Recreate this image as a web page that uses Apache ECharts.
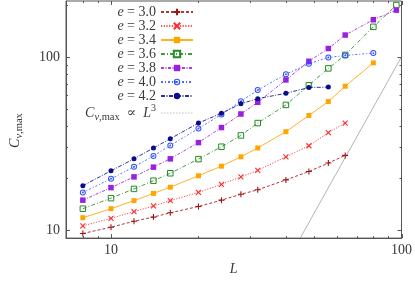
<!DOCTYPE html>
<html>
<head>
<meta charset="utf-8">
<script src="https://cdn.jsdelivr.net/npm/echarts@6/dist/echarts.min.js"></script>
<style>html,body{margin:0;padding:0;background:#fff;}#c{width:415px;height:281px;}</style>
</head>
<body>
<div id="c"></div>
<script>
// ---- data ----
const L = [8, 10, 12, 14, 16, 20, 24, 28, 32, 40, 48, 56, 64, 80, 96];
const e30 = [9.57, 10.4, 11.26, 11.9, 12.6, 13.7, 14.9, 16.1, 17.1, 19.5, 21.8, 24.4, 27.0];
const e32 = [10.6, 11.7, 12.8, 13.8, 14.8, 16.5, 18.4, 20.3, 22.1, 26.5, 30.7, 36.5, 41.5];
const e34 = [11.8, 13.3, 14.8, 16.3, 17.7, 20.6, 23.4, 26.5, 29.8, 37.0, 45.9, 55.2, 67.7, 92.3];
const e36 = [13.3, 15.3, 17.3, 19.3, 21.3, 25.7, 30.3, 35.2, 41.5, 52.8, 68.6, 85.8, 102.6, 149, 199];
const e38 = [14.9, 17.6, 20.3, 23.1, 25.8, 32.0, 39.1, 46.8, 54.7, 73.6, 94.3, 111.7, 133.6, 163.7, 186];
const e40 = [16.5, 19.8, 23.2, 26.8, 30.8, 38.6, 46.5, 55.4, 64.3, 79.4, 91.2, 99.2, 101.8, 105.2];
const e42 = [18.05, 22.0, 25.8, 29.8, 33.7, 41.5, 47.3, 53.6, 57.4, 61.6, 66.5, 66.9];
const refL = [44.8, 100];
const refC = [9, 100];
const seriesNames = ['e = 3.0', 'e = 3.2', 'e = 3.4', 'e = 3.6', 'e = 3.8', 'e = 4.0', 'e = 4.2'];
const refName = 'Cv,max ∝ L^3';
const xMajorTicks = [10, 100];
const xMinorTicks = [8, 9, 20, 30, 40, 50, 60, 70, 80, 90];
const yMajorTicks = [10, 100];
const yMinorTicks = [20, 30, 40, 50, 60, 70, 80, 90, 200];
const xTickLabels = ['10', '100'];
const yTickLabels = ['10', '100'];

// ---- styles ----
const SERIF = "'Liberation Serif','DejaVu Serif',serif";
const AX = '#555';
const TXT = '#3a3a3a';
const styles = [
  {color: '#a01414', dash: [3, 2], symbol: 'path://M0,5H10M5,0V10', size: 6, stroke: true},
  {color: '#ff2a2a', dash: [1.2, 1.5], symbol: 'path://M0,0L10,10M10,0L0,10', size: 5, stroke: true},
  {color: '#ffa500', dash: 'solid', symbol: 'rect', size: 5},
  {color: '#238b23', dash: [4, 2, 1, 2], symbol: 'rect', size: 5.5, hollow: true},
  {color: '#9b1fe0', dash: [3, 1.5, 1, 1.5], symbol: 'rect', size: 5.5},
  {color: '#2f50ff', dash: [2, 2, 1, 2], symbol: 'path://M0,-3A3,3 0 1,1 0,3A3,3 0 1,1 0,-3ZM0,-2A2,2 0 1,0 0,2A2,2 0 1,0 0,-2ZM0,-0.9A0.9,0.9 0 1,1 0,0.9A0.9,0.9 0 1,1 0,-0.9Z', size: 6},
  {color: '#0c0c8c', dash: [4, 1.5, 1, 1.5], symbol: 'circle', size: 5}
];
const allData = [e30, e32, e34, e36, e38, e40, e42];

const series = allData.map((vals, i) => {
  const s = styles[i];
  let itemStyle;
  if (s.stroke) itemStyle = {color: s.color, borderColor: s.color, borderWidth: 1.1};
  else if (s.hollow) itemStyle = {color: 'rgba(255,255,255,0)', borderColor: s.color, borderWidth: 1};
  else itemStyle = {color: s.color};
  return {
    name: seriesNames[i], type: 'line', z: 10 + i,
    data: vals.map((v, k) => [L[k], v]),
    symbol: s.symbol, symbolSize: s.size, showSymbol: true,
    lineStyle: {color: s.color, width: 1, type: s.dash, opacity: 0.85},
    itemStyle: itemStyle, emphasis: {disabled: true}, animation: false
  };
});
series.push({
  name: refName, type: 'line', z: 5, symbol: 'none', clip: true,
  data: refL.map((x, k) => [x, refC[k]]),
  lineStyle: {color: '#aaaaaa', width: 0.9, type: 'solid'},
  emphasis: {disabled: true}, animation: false
});

function tickSeries(values, dir, len) {
  return {
    type: 'custom', coordinateSystem: 'cartesian2d', silent: true, z: 20, clip: false, animation: false,
    data: values.map(v => [v, v]),
    renderItem: (params, api) => {
      const cs = params.coordSys;
      const v = api.value(0);
      const st = {stroke: AX, lineWidth: 1};
      if (dir === 'x') {
        const px = Math.round(api.coord([v, 50])[0]) + 0.5;
        const yb = cs.y + cs.height, yt = cs.y;
        return {type: 'group', children: [
          {type: 'line', shape: {x1: px, y1: yb, x2: px, y2: yb - len}, style: st},
          {type: 'line', shape: {x1: px, y1: yt, x2: px, y2: yt + len}, style: st}
        ]};
      } else {
        const py = Math.round(api.coord([20, v])[1]) + 0.5;
        const xl = cs.x, xr = cs.x + cs.width;
        return {type: 'group', children: [
          {type: 'line', shape: {x1: xl, y1: py, x2: xl + len, y2: py}, style: st},
          {type: 'line', shape: {x1: xr, y1: py, x2: xr - len, y2: py}, style: st}
        ]};
      }
    }
  };
}
series.push(tickSeries(xMajorTicks, 'x', 4));
series.push(tickSeries(xMinorTicks, 'x', 2));
series.push(tickSeries(yMajorTicks, 'y', 4));
series.push(tickSeries(yMinorTicks, 'y', 2));

const rich = {
  i: {fontFamily: SERIF, fontStyle: 'italic', fontSize: 14, color: TXT, lineHeight: 12},
  n: {fontFamily: SERIF, fontSize: 14, color: TXT, lineHeight: 12},
  subi: {fontFamily: SERIF, fontStyle: 'italic', fontSize: 10.5, color: TXT, lineHeight: 12, verticalAlign: 'bottom', padding: [0, 0, -4, 0]},
  sub: {fontFamily: SERIF, fontSize: 10.5, color: TXT, lineHeight: 12, verticalAlign: 'bottom', padding: [0, 0, -4, 0]},
  sup: {fontFamily: SERIF, fontSize: 10, color: TXT, lineHeight: 12, verticalAlign: 'top', padding: [-4, 0, 0, 0]}
};

const legendData = seriesNames.map(n => ({name: n}));
legendData.push({name: refName,
  lineStyle: {color: '#c0c0c0', type: [1.5, 1.5], width: 1},
  itemStyle: {color: 'rgba(0,0,0,0)', borderColor: 'rgba(0,0,0,0)', borderWidth: 0, opacity: 0}});

const chart = echarts.init(document.getElementById('c'), null, {renderer: 'canvas'});
chart.setOption({
  animation: false,
  backgroundColor: '#fff',
  grid: {left: 56, right: 13, top: 1, bottom: 34, show: true, borderColor: AX, borderWidth: 1, containLabel: false},
  xAxis: {
    type: 'log', logBase: 10, min: 7, max: 100,
    axisLine: {show: true, lineStyle: {color: AX, width: 1}},
    axisTick: {show: false}, splitLine: {show: false},
    axisLabel: {
      showMinLabel: false, margin: 5, color: TXT, fontFamily: SERIF, fontSize: 14,
      formatter: v => { const k = xMajorTicks.indexOf(Math.round(v)); return k >= 0 ? xTickLabels[k] : ''; }
    },
    name: '{i|L}', nameLocation: 'middle', nameGap: 21,
    nameTextStyle: {rich: rich}
  },
  yAxis: {
    type: 'log', logBase: 10, min: 9, max: 210,
    axisLine: {show: true, lineStyle: {color: AX, width: 1}},
    axisTick: {show: false}, splitLine: {show: false},
    axisLabel: {
      showMinLabel: false, showMaxLabel: false, margin: 6, color: TXT, fontFamily: SERIF, fontSize: 14,
      formatter: v => { const k = yMajorTicks.indexOf(Math.round(v)); return k >= 0 ? yTickLabels[k] : ''; }
    },
    name: '{i|C}{subi|v}{sub|,max}', nameLocation: 'middle', nameGap: 45, nameRotate: 90,
    nameTextStyle: {rich: rich, padding: [0, 22, 0, 0]}
  },
  legend: {
    data: legendData,
    orient: 'vertical', right: 221, top: 5, padding: 0, align: 'right',
    itemWidth: 32, itemHeight: 8, itemGap: 0, selectedMode: false,
    textStyle: {fontFamily: SERIF, fontSize: 14, color: TXT, lineHeight: 11.8, rich: rich},
    formatter: name => {
      if (name === refName) return '{i|C}{subi|v}{sub|,max}{n|  ∝  }{i|L}{sup|3}';
      return '{i|e}{n| = ' + name.slice(4) + '}';
    }
  },
  series: series
});
</script>
</body>
</html>
